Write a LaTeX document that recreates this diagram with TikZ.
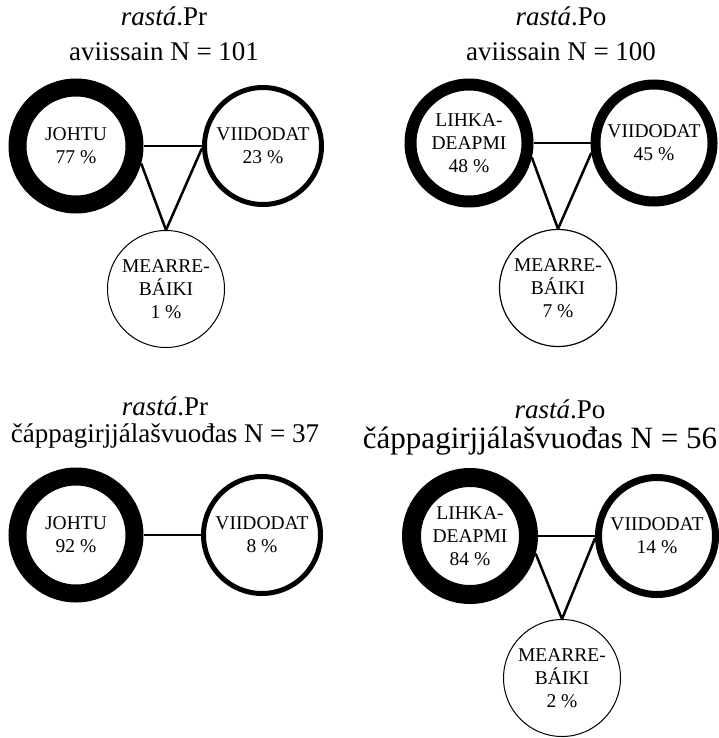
\documentclass[tikz,border=0pt]{standalone}
\usepackage{fontspec}
\setmainfont{Liberation Serif}
\usepackage{tikz}
\usetikzlibrary{positioning}

\begin{document}
\begin{tikzpicture}[x=1pt,y=-1pt,
    cat/.style={circle,draw,inner sep=0pt,minimum size=117pt,align=center,
        font=\fontsize{19.5}{23}\selectfont},
    link/.style={line width=2.5pt},
    head/.style={anchor=base,font=\fontsize{27}{33}\selectfont}]
    \useasboundingbox (0,0) rectangle (719,738);

    % rastá.Pr, aviissain
    \node[head] (titlePrA) at (164,26) {\textit{rastá}.Pr};
    \node[head] (countPrA) at (164,61) {aviissain N = 101};
    \node[cat,line width=18pt] (johtuA) at (76,146) {JOHTU\\77 \%};
    \node[cat,line width=5pt] (viidA) at (263,146) {VIIDODAT\\23 \%};
    \node[cat,line width=1pt] (mearA) at (166,289) {MEARRE-\\BÁIKI\\1 \%};
    \draw[link] (johtuA.east) -- (viidA.west);
    \draw[link] (johtuA.-15) -- (mearA.north);
    \draw[link] (viidA.182) -- (mearA.north);

    % rastá.Po, aviissain
    \node[head] (titlePoA) at (561,26) {\textit{rastá}.Po};
    \node[head] (countPoA) at (561,61) {aviissain N = 100};
    \node[cat,line width=12pt] (lihkaA) at (469,143) {LIHKA-\\DEAPMI\\48 \%};
    \node[cat,line width=10pt] (viidB) at (654,143) {VIIDODAT\\45 \%};
    \node[cat,line width=1.2pt] (mearB) at (558,288) {MEARRE-\\BÁIKI\\7 \%};
    \draw[link] (lihkaA.east) -- (viidB.west);
    \draw[link] (lihkaA.-13) -- (mearB.north);
    \draw[link] (viidB.189) -- (mearB.north);

    % rastá.Pr, cáppagirjjálasvuodas
    \node[head] (titlePrC) at (165,415) {\textit{rastá}.Pr};
    \node[head] (countPrC) at (165,442) {čáppagirjjálašvuođas N = 37};
    \node[cat,line width=18pt] (johtuC) at (76,535) {JOHTU\\92 \%};
    \node[cat,line width=5pt] (viidC) at (262,535) {VIIDODAT\\8 \%};
    \draw[link] (johtuC.east) -- (viidC.west);

    % rastá.Po, cáppagirjjálasvuodas
    \node[head] (titlePoC) at (560,418) {\textit{rastá}.Po};
    \node[head,font=\fontsize{31}{37}\selectfont] (countPoC) at (540,448)
        {čáppagirjjálašvuođas N = 56};
    \node[cat,line width=19pt] (lihkaC) at (470,536) {LIHKA-\\DEAPMI\\84 \%};
    \node[cat,line width=7pt] (viidD) at (657,536) {VIIDODAT\\14 \%};
    \node[cat,line width=1pt] (mearD) at (562,678) {MEARRE-\\BÁIKI\\2 \%};
    \draw[link] (lihkaC.east) -- (viidD.west);
    \draw[link] (lihkaC.-15) -- (mearD.north);
    \draw[link] (viidD.182) -- (mearD.north);
\end{tikzpicture}
\end{document}
